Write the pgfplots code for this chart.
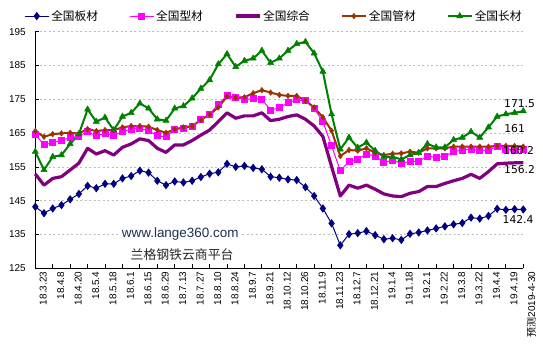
\documentclass[border=0pt]{standalone}
\usepackage{pgfplots}
\pgfplotsset{compat=1.18}
\usepackage{pgfplotstable}
\usepackage{fontspec}
\setmainfont{Liberation Sans}
\newfontfamily\cjk{Noto Sans CJK SC}
\newfontfamily\dejavu{DejaVu Sans}
\definecolor{cb}{HTML}{000080}
\definecolor{cs}{HTML}{FF00FF}
\definecolor{cz}{HTML}{800080}
\definecolor{cg}{HTML}{993300}
\definecolor{cc}{HTML}{008000}
\definecolor{gridc}{HTML}{BFBFBF}
\definecolor{wm}{HTML}{1F2F50}

\pgfplotstableread{
x b s z g c
0 143.2 164.7 152.9 165.6 159.5
1 141.3 161.5 149.6 163.9 154.1
2 142.7 162.2 151.6 164.7 158.0
3 143.7 162.8 152.1 164.9 158.5
4 145.4 163.7 154.1 165.1 161.8
5 147.0 164.1 156.1 164.9 164.7
6 149.4 165.4 160.5 166.2 172.0
7 148.7 164.2 158.8 165.6 168.4
8 150.0 164.9 159.8 165.9 169.6
9 150.0 164.3 158.5 165.9 165.9
10 151.6 165.4 160.8 166.7 169.9
11 152.3 166.2 161.8 167.1 171.0
12 153.9 166.4 163.3 167.1 173.8
13 153.3 165.7 162.8 166.9 172.3
14 150.9 164.2 160.5 165.9 169.1
15 149.6 163.9 159.3 165.1 168.7
16 150.7 166.1 161.5 166.1 172.3
17 150.4 166.4 161.5 166.7 173.0
18 150.9 166.9 162.8 167.1 175.3
19 152.0 168.9 164.4 168.9 178.2
20 153.0 170.5 165.9 170.5 180.7
21 153.4 173.6 168.4 172.6 185.4
22 155.9 176.0 171.0 175.8 188.4
23 155.0 175.6 169.4 175.5 184.6
24 155.3 174.8 170.1 175.6 186.4
25 154.7 175.3 170.1 176.8 187.1
26 154.3 175.0 171.0 177.7 189.4
27 152.1 171.8 168.7 177.0 185.8
28 151.8 172.5 169.1 176.3 187.1
29 151.3 174.0 169.9 176.0 189.4
30 151.1 174.8 170.4 176.0 191.4
31 149.0 174.6 169.1 174.6 192.0
32 146.4 172.3 167.1 172.6 188.6
33 142.7 168.4 164.0 169.7 183.2
34 138.3 161.2 155.1 165.7 170.6
35 131.8 153.9 146.4 158.2 160.2
36 135.1 156.6 149.6 160.0 163.7
37 135.4 157.3 148.7 159.8 160.7
38 136.0 158.8 149.6 160.5 162.2
39 134.8 158.2 148.4 159.2 159.8
40 133.6 156.3 147.0 158.5 158.0
41 133.9 157.0 146.4 158.9 158.0
42 133.4 156.1 146.2 159.0 157.2
43 135.2 156.6 147.2 159.5 158.5
44 135.6 156.6 147.7 159.2 159.2
45 136.2 158.2 149.2 160.5 161.8
46 136.8 157.8 149.2 160.5 160.8
47 137.4 158.2 150.1 160.5 160.8
48 138.0 159.5 150.9 161.0 163.0
49 138.4 160.0 151.6 161.0 163.7
50 140.0 160.2 152.8 161.0 165.4
51 139.7 159.8 151.6 161.0 163.7
52 140.5 160.0 153.6 161.0 166.7
53 142.6 161.0 155.9 161.2 169.9
54 142.3 160.2 156.1 161.2 170.6
55 142.5 160.0 156.2 161.2 171.0
56 142.4 160.2 156.2 161.0 171.5
}\data

\begin{document}
\begin{tikzpicture}
\begin{axis}[
  at={(0,0)}, anchor=south west,
  scale only axis, width=488bp, height=236.6bp,
  xmin=0, xmax=56, ymin=125, ymax=195,
  axis x line=bottom, axis y line=left,
  axis line style={-, line width=1bp, black},
  tick align=inside, major tick length=4bp,
  tick style={black, line width=0.8bp},
  ytick={125,135,...,195},
  xtick={0,2,...,56},
  xticklabels={18.3.23,18.4.8,18.4.20,18.5.4,18.5.18,18.6.1,18.6.15,18.6.29,18.7.13,18.7.27,18.8.10,18.8.24,18.9.7,18.9.21,18.10.12,18.10.26,18.11.9,18.11.23,18.12.7,18.12.21,19.1.4,19.1.18,19.2.1,19.2.22,19.3.8,19.3.22,19.4.4,19.4.19,{{\cjk 预测}2019-4-30}},
  /pgf/number format/assume math mode=true,
  ticklabel style={font=\fontsize{10}{12}\selectfont},
  yticklabel style={xshift=-6bp},
  xticklabel style={rotate=90, anchor=east, yshift=-8bp},
  ymajorgrids,
  major grid style={gridc, line width=0.8bp, dash pattern=on 2bp off 2.5bp},
  clip=false,
  legend columns=5,
  legend style={at={(-0.023,1.066)}, anchor=west, draw=none, fill=none,
    inner sep=0pt, column sep=0pt,
    font=\cjk\fontsize{11.75}{13}\selectfont,
    nodes={inner xsep=2bp, inner ysep=0pt},
    /tikz/every even column/.append style={column sep=29bp}},
  legend image code/.code={\draw[mark repeat=2,mark phase=2,#1] plot coordinates {(0bp,0bp) (12bp,0bp) (24bp,0bp)};},
]
\addplot[cb, line width=1bp, mark=diamond*, mark size=3.4bp, mark options={solid, fill=cb}] table[x=x,y=b]{\data};
\addlegendentry{全国板材}
\addplot[cs, line width=1bp, mark=square*, mark size=3bp, mark options={solid, fill=cs}] table[x=x,y=s]{\data};
\addlegendentry{全国型材}
\addplot[cz, line width=3.2bp, line join=round, no markers] table[x=x,y=z]{\data};
\addlegendentry{全国综合}
\addplot[cg, line width=2bp, line join=round, mark=diamond*, mark size=2.8bp, mark options={solid, fill=cg, line width=0.5bp}] table[x=x,y=g]{\data};
\addlegendentry{全国管材}
\addplot[cc, line width=2bp, line join=round, mark=triangle*, mark size=3.6bp, mark options={solid, fill=cc, line width=0.5bp}] table[x=x,y=c]{\data};
\addlegendentry{全国长材}

\coordinate (L1) at (axis cs:55.57,173.7);
\coordinate (L2) at (axis cs:55.0,166.2);
\coordinate (L3) at (axis cs:55.45,159.8);
\coordinate (L4) at (axis cs:55.57,154.3);
\coordinate (L5) at (axis cs:55.4,139.4);

\node[anchor=west, fill=white, inner sep=1bp, text=wm, font=\fontsize{13.5}{15}\selectfont] at (rel axis cs:0.175,0.145) {www.lange360.com};
\node[anchor=west, inner sep=0pt, text=black!85, font=\cjk\fontsize{12.9}{14}\selectfont] at (rel axis cs:0.195,0.056) {兰格钢铁云商平台};
\end{axis}
\begin{scope}[every node/.style={font=\dejavu\fontsize{10.8}{12}\selectfont, inner sep=0pt}]
\node at (L1) {171.5};
\node at (L2) {161};
\node at (L3) {160.2};
\node at (L4) {156.2};
\node at (L5) {142.4};
\end{scope}
\pgfresetboundingbox
\path[use as bounding box] (-35.3bp,-92.7bp) rectangle (507.7bp,268.3bp);
\end{tikzpicture}
\end{document}
